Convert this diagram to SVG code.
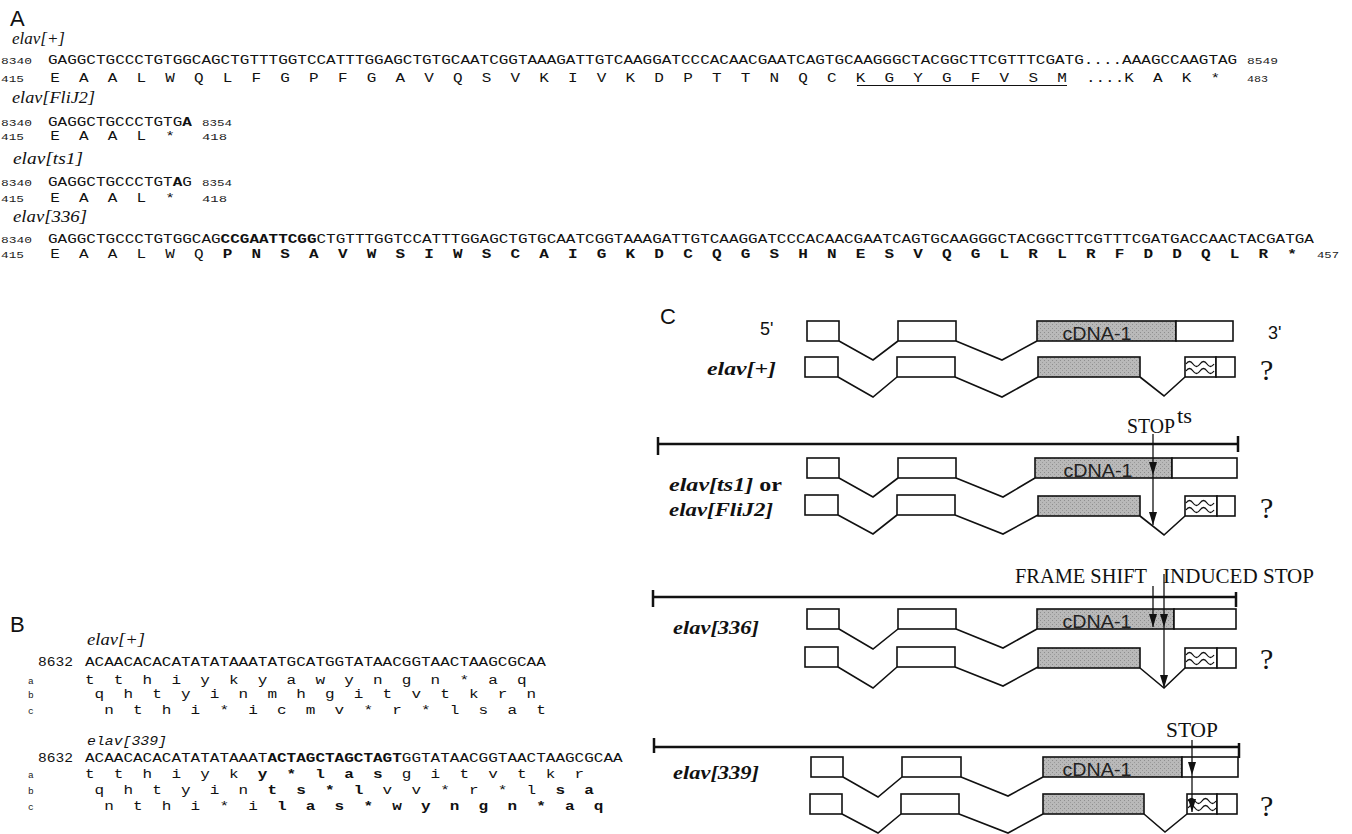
<svg xmlns="http://www.w3.org/2000/svg" width="1352" height="834" viewBox="0 0 1352 834">
<style>
.mono{font-family:"Courier New","Liberation Mono",monospace;font-size:12px;fill:#111;white-space:pre}
.num{font-family:"Courier New","Liberation Mono",monospace;font-size:9.5px;fill:#222}
.b{font-weight:bold}
.lab{font-family:"Liberation Serif","Times New Roman",serif;font-style:italic;font-size:17px;fill:#111}
.monoit{font-family:"Courier New","Liberation Mono",monospace;font-style:italic;font-size:13px;fill:#111}
.blab{font-family:"Liberation Serif","Times New Roman",serif;font-style:italic;font-weight:bold;font-size:18px;fill:#111}
.panel{font-family:"Liberation Sans",Arial,sans-serif;font-size:22px;fill:#111}
.sans{font-family:"Liberation Sans",Arial,sans-serif;font-size:18px;fill:#111}
.cdna{font-family:"Liberation Sans",Arial,sans-serif;font-size:19px;fill:#222;text-anchor:middle}
.ser{font-family:"Liberation Serif","Times New Roman",serif;font-size:21px;fill:#111}
.q{font-family:"Liberation Serif","Times New Roman",serif;font-size:30px;fill:#111}
.box{fill:#fff;stroke:#111;stroke-width:1.6}
.gray{fill:url(#stip);stroke:#111;stroke-width:1.6}
.intron{fill:none;stroke:#111;stroke-width:1.6}
.wave{fill:none;stroke:#111;stroke-width:1.3}
.bar{stroke:#111;stroke-width:2.5;fill:none}
.arr{stroke:#111;stroke-width:1.3;fill:none;marker-mid:url(#ah);marker-end:url(#ah)}
.under{stroke:#111;stroke-width:1}
</style>
<defs>
<pattern id="stip" width="4" height="4" patternUnits="userSpaceOnUse">
<rect width="4" height="4" fill="#b9b9b9"/>
<rect x="0" y="0" width="1" height="1" fill="#8e8e8e"/>
<rect x="2" y="2" width="1" height="1" fill="#9a9a9a"/>
</pattern>
<marker id="ah" viewBox="0 0 13 8" refX="13" refY="4" markerUnits="userSpaceOnUse" markerWidth="13" markerHeight="8" orient="auto">
<path d="M0,0 L13,4 L0,8 z" fill="#111"/>
</marker>
</defs>
<rect width="1352" height="834" fill="#fff"/>

<g id="panelA">
<text class="panel" x="10" y="26">A</text>
<text class="lab" x="12" y="44" textLength="53" lengthAdjust="spacingAndGlyphs">elav[+]</text>
<text class="num" x="1" y="64" textLength="31" lengthAdjust="spacingAndGlyphs">8340</text>
<text class="mono" x="48" y="64" textLength="1189.2" lengthAdjust="spacingAndGlyphs">GAGGCTGCCCTGTGGCAGCTGTTTGGTCCATTTGGAGCTGTGCAATCGGTAAAGATTGTCAAGGATCCCACAACGAATCAGTGCAAGGGCTACGGCTTCGTTTCGATG....AAAGCCAAGTAG</text>
<text class="num" x="1247" y="64" textLength="31" lengthAdjust="spacingAndGlyphs">8549</text>
<text class="num" x="1" y="82" textLength="23" lengthAdjust="spacingAndGlyphs">415</text>
<text class="mono" xml:space="preserve" x="50.2" y="82" textLength="1170" lengthAdjust="spacingAndGlyphs">E  A  A  L  W  Q  L  F  G  P  F  G  A  V  Q  S  V  K  I  V  K  D  P  T  T  N  Q  C  K  G  Y  G  F  V  S  M  ....K  A  K  *</text>
<line class="under" x1="857" y1="85.5" x2="1067" y2="85.5"/>
<text class="num" x="1247" y="82" textLength="21" lengthAdjust="spacingAndGlyphs">483</text>

<text class="lab" x="12" y="103" textLength="83" lengthAdjust="spacingAndGlyphs">elav[FliJ2]</text>
<text class="num" x="1" y="126" textLength="31" lengthAdjust="spacingAndGlyphs">8340</text>
<text class="mono" x="48" y="126" textLength="143.85" lengthAdjust="spacingAndGlyphs">GAGGCTGCCCTGTG<tspan class="b">A</tspan></text>
<text class="num" x="202" y="126" textLength="30" lengthAdjust="spacingAndGlyphs">8354</text>
<text class="num" x="1" y="140" textLength="23" lengthAdjust="spacingAndGlyphs">415</text>
<text class="mono" xml:space="preserve" x="50.2" y="140" textLength="124.7" lengthAdjust="spacingAndGlyphs">E  A  A  L  *</text>
<text class="num" x="202" y="140" textLength="25" lengthAdjust="spacingAndGlyphs">418</text>

<text class="lab" x="13" y="164" textLength="70" lengthAdjust="spacingAndGlyphs">elav[ts1]</text>
<text class="num" x="1" y="186" textLength="31" lengthAdjust="spacingAndGlyphs">8340</text>
<text class="mono" x="48" y="186" textLength="143.85" lengthAdjust="spacingAndGlyphs">GAGGCTGCCCTGT<tspan class="b">A</tspan>G</text>
<text class="num" x="202" y="186" textLength="30" lengthAdjust="spacingAndGlyphs">8354</text>
<text class="num" x="1" y="202" textLength="23" lengthAdjust="spacingAndGlyphs">415</text>
<text class="mono" xml:space="preserve" x="50.2" y="202" textLength="124.7" lengthAdjust="spacingAndGlyphs">E  A  A  L  *</text>
<text class="num" x="202" y="202" textLength="25" lengthAdjust="spacingAndGlyphs">418</text>

<text class="lab" x="13" y="222" textLength="74" lengthAdjust="spacingAndGlyphs">elav[336]</text>
<text class="num" x="1" y="243" textLength="31" lengthAdjust="spacingAndGlyphs">8340</text>
<text class="mono" x="48" y="243" textLength="1265.9" lengthAdjust="spacingAndGlyphs">GAGGCTGCCCTGTGGCAG<tspan class="b">CCGAATTCGG</tspan>CTGTTTGGTCCATTTGGAGCTGTGCAATCGGTAAAGATTGTCAAGGATCCCACAACGAATCAGTGCAAGGGCTACGGCTTCGTTTCGATGACCAACTACGATGA</text>
<text class="num" x="1" y="258" textLength="23" lengthAdjust="spacingAndGlyphs">415</text>
<text class="mono" xml:space="preserve" x="50.2" y="258" textLength="1246.7" lengthAdjust="spacingAndGlyphs">E  A  A  L  W  Q  <tspan class="b">P  N  S  A  V  W  S  I  W  S  C  A  I  G  K  D  C  Q  G  S  H  N  E  S  V  Q  G  L  R  L  R  F  D  D  Q  L  R  *</tspan></text>
<text class="num" x="1317" y="258" textLength="22" lengthAdjust="spacingAndGlyphs">457</text>
</g>

<g id="panelB">
<text class="panel" x="10" y="632">B</text>
<text class="lab" x="87" y="645" textLength="58" lengthAdjust="spacingAndGlyphs">elav[+]</text>
<text class="mono" x="38" y="666" textLength="35" lengthAdjust="spacingAndGlyphs">8632</text>
<text class="mono" x="85" y="666" textLength="460.8" lengthAdjust="spacingAndGlyphs">ACAACACACATATATAAATATGCATGGTATAACGGTAACTAAGCGCAA</text>
<text class="num" x="28" y="684">a</text>
<text class="mono" xml:space="preserve" x="85" y="684" textLength="441.6" lengthAdjust="spacingAndGlyphs">t  t  h  i  y  k  y  a  w  y  n  g  n  *  a  q</text>
<text class="num" x="28" y="698">b</text>
<text class="mono" xml:space="preserve" x="85" y="698" textLength="451.2" lengthAdjust="spacingAndGlyphs"> q  h  t  y  i  n  m  h  g  i  t  v  t  k  r  n</text>
<text class="num" x="28" y="714">c</text>
<text class="mono" xml:space="preserve" x="85" y="714" textLength="460.8" lengthAdjust="spacingAndGlyphs">  n  t  h  i  *  i  c  m  v  *  r  *  l  s  a  t</text>

<text class="monoit" x="87" y="745" textLength="80" lengthAdjust="spacingAndGlyphs">elav[339]</text>
<text class="mono" x="38" y="762" textLength="35" lengthAdjust="spacingAndGlyphs">8632</text>
<text class="mono" x="85" y="762" textLength="537.6" lengthAdjust="spacingAndGlyphs">ACAACACACATATATAAAT<tspan class="b">ACTAGCTAGCTAGT</tspan>GGTATAACGGTAACTAAGCGCAA</text>
<text class="num" x="28" y="778">a</text>
<text class="mono" xml:space="preserve" x="85" y="778" textLength="499.2" lengthAdjust="spacingAndGlyphs">t  t  h  i  y  k  <tspan class="b">y  *  l  a  s</tspan>  g  i  t  v  t  k  r</text>
<text class="num" x="28" y="794">b</text>
<text class="mono" xml:space="preserve" x="85" y="794" textLength="508.8" lengthAdjust="spacingAndGlyphs"> q  h  t  y  i  n  <tspan class="b">t  s  *  l</tspan>  v  v  *  r  *  l  <tspan class="b">s  a</tspan></text>
<text class="num" x="28" y="810">c</text>
<text class="mono" xml:space="preserve" x="85" y="810" textLength="518.4" lengthAdjust="spacingAndGlyphs">  n  t  h  i  *  i  <tspan class="b">l  a  s  *  w  y  n  g  n  *  a  q</tspan></text>
</g>

<g id="panelC">
<text class="panel" x="660" y="324">C</text>

<g id="track-wt">
<text class="sans" x="760" y="335">5'</text>
<text class="sans" x="1268" y="339">3'</text>
<text class="blab" x="707" y="375" textLength="69" lengthAdjust="spacingAndGlyphs">elav[+]</text>
<rect class="box" x="807" y="321" width="32" height="20"/>
<path class="intron" d="M839,341 L873,360 L898,341"/>
<rect class="box" x="898" y="321" width="58" height="20"/>
<path class="intron" d="M956,341 L1002,360 L1037,341"/>
<rect class="gray" x="1037" y="321" width="139" height="20"/>
<rect class="box" x="1176" y="321" width="57" height="20"/>
<text class="cdna" x="1097" y="340" textLength="69" lengthAdjust="spacingAndGlyphs">cDNA-1</text>
<rect class="box" x="805" y="357" width="33" height="20"/>
<path class="intron" d="M838,377 L873,397 L897,377"/>
<rect class="box" x="897" y="357" width="58" height="20"/>
<path class="intron" d="M955,377 L1002,397 L1038,377"/>
<rect class="gray" x="1038" y="357" width="102" height="20"/>
<path class="intron" d="M1140,377 L1164,396 L1185,377"/>
<rect class="box" x="1185" y="357" width="31" height="20"/>
<path class="wave" d="M1186,364 q3.5,-5 7,0 t7,0 t7,0 t7,0 M1186,371 q3.5,-5 7,0 t7,0 t7,0 t7,0"/>
<rect class="box" x="1216" y="357" width="19" height="20"/>
<text class="q" x="1260" y="380">?</text>
</g>

<g id="track-ts1">
<path class="bar" d="M658,444 H1238 M658,437 V455 M1238,436 V452"/>
<text class="ser" x="1127" y="433" textLength="48" lengthAdjust="spacingAndGlyphs">STOP</text>
<text class="ser" x="1177" y="423" textLength="15" lengthAdjust="spacingAndGlyphs">ts</text>
<text class="blab" x="669" y="491" textLength="113" lengthAdjust="spacingAndGlyphs">elav[ts1]<tspan font-style="normal"> or</tspan></text>
<text class="blab" x="669" y="516" textLength="104" lengthAdjust="spacingAndGlyphs">elav[FliJ2]</text>
<rect class="box" x="807" y="458" width="32" height="20"/>
<path class="intron" d="M839,478 L873,497 L898,478"/>
<rect class="box" x="898" y="458" width="58" height="20"/>
<path class="intron" d="M956,478 L1003,497 L1035,478"/>
<rect class="gray" x="1035" y="458" width="137" height="20"/>
<rect class="box" x="1172" y="458" width="65" height="20"/>
<text class="cdna" x="1098" y="477" textLength="69" lengthAdjust="spacingAndGlyphs">cDNA-1</text>
<rect class="box" x="805" y="495" width="33" height="20"/>
<path class="intron" d="M838,515 L873,534 L897,515"/>
<rect class="box" x="897" y="495" width="58" height="20"/>
<path class="intron" d="M955,515 L1003,534 L1038,515"/>
<rect class="gray" x="1038" y="496" width="102" height="20"/>
<path class="intron" d="M1140,516 L1164,535 L1185,516"/>
<rect class="box" x="1185" y="496" width="32" height="20"/>
<path class="wave" d="M1186,503 q3.5,-5 7,0 t7,0 t7,0 t7,0 M1186,510 q3.5,-5 7,0 t7,0 t7,0 t7,0"/>
<rect class="box" x="1217" y="496" width="18" height="20"/>
<text class="q" x="1260" y="518">?</text>
</g>

<g id="track-336">
<path class="bar" d="M653,597 H1236 M653,590 V607 M1236,592 V607"/>
<text class="ser" x="1015" y="583" textLength="132" lengthAdjust="spacingAndGlyphs">FRAME SHIFT</text>
<text class="ser" x="1163" y="583" textLength="151" lengthAdjust="spacingAndGlyphs">INDUCED STOP</text>
<text class="blab" x="673" y="634" textLength="86" lengthAdjust="spacingAndGlyphs">elav[336]</text>
<rect class="box" x="807" y="609" width="32" height="20"/>
<path class="intron" d="M839,629 L873,649 L898,629"/>
<rect class="box" x="898" y="609" width="58" height="20"/>
<path class="intron" d="M956,629 L1003,648 L1037,629"/>
<rect class="gray" x="1037" y="609" width="137" height="20"/>
<rect class="box" x="1174" y="609" width="62" height="20"/>
<text class="cdna" x="1097" y="628" textLength="69" lengthAdjust="spacingAndGlyphs">cDNA-1</text>
<rect class="box" x="805" y="647" width="33" height="20"/>
<path class="intron" d="M838,667 L873,688 L897,667"/>
<rect class="box" x="897" y="647" width="58" height="20"/>
<path class="intron" d="M955,667 L1003,686 L1038,667"/>
<rect class="gray" x="1038" y="648" width="102" height="20"/>
<path class="intron" d="M1140,668 L1164,688 L1185,668"/>
<rect class="box" x="1185" y="648" width="32" height="20"/>
<path class="wave" d="M1186,655 q3.5,-5 7,0 t7,0 t7,0 t7,0 M1186,662 q3.5,-5 7,0 t7,0 t7,0 t7,0"/>
<rect class="box" x="1217" y="648" width="19" height="20"/>
<text class="q" x="1260" y="669">?</text>
</g>

<g id="track-339">
<path class="bar" d="M654,747 H1239 M654,738 V753 M1239,743 V758"/>
<text class="ser" x="1166" y="737" textLength="52" lengthAdjust="spacingAndGlyphs">STOP</text>
<text class="blab" x="673" y="779" textLength="86" lengthAdjust="spacingAndGlyphs">elav[339]</text>
<rect class="box" x="811" y="757" width="32" height="20"/>
<path class="intron" d="M843,777 L878,797 L902,777"/>
<rect class="box" x="902" y="757" width="59" height="20"/>
<path class="intron" d="M961,777 L1008,796 L1043,777"/>
<rect class="gray" x="1043" y="757" width="139" height="20"/>
<rect class="box" x="1182" y="757" width="56" height="20"/>
<text class="cdna" x="1097" y="776" textLength="69" lengthAdjust="spacingAndGlyphs">cDNA-1</text>
<rect class="box" x="810" y="794" width="32" height="20"/>
<path class="intron" d="M842,814 L878,833 L901,814"/>
<rect class="box" x="901" y="794" width="58" height="20"/>
<path class="intron" d="M959,814 L1008,833 L1043,814"/>
<rect class="gray" x="1043" y="794" width="101" height="20"/>
<path class="intron" d="M1144,814 L1165,832 L1187,814"/>
<rect class="box" x="1187" y="794" width="30" height="20"/>
<path class="wave" d="M1188,801 q3.5,-5 7,0 t7,0 t7,0 t7,0 M1188,808 q3.5,-5 7,0 t7,0 t7,0 t7,0"/>
<rect class="box" x="1217" y="794" width="20" height="20"/>
<text class="q" x="1260" y="816">?</text>
</g>
</g>

<g id="connectors">
<polyline class="arr" points="1153,434 1153,475 1153,525"/>
<polyline class="arr" points="1153,586 1153,627"/>
<polyline class="arr" points="1164,574 1164,627 1164,688"/>
<polyline class="arr" points="1192,740 1192,775 1192,812"/>
</g>
</svg>
